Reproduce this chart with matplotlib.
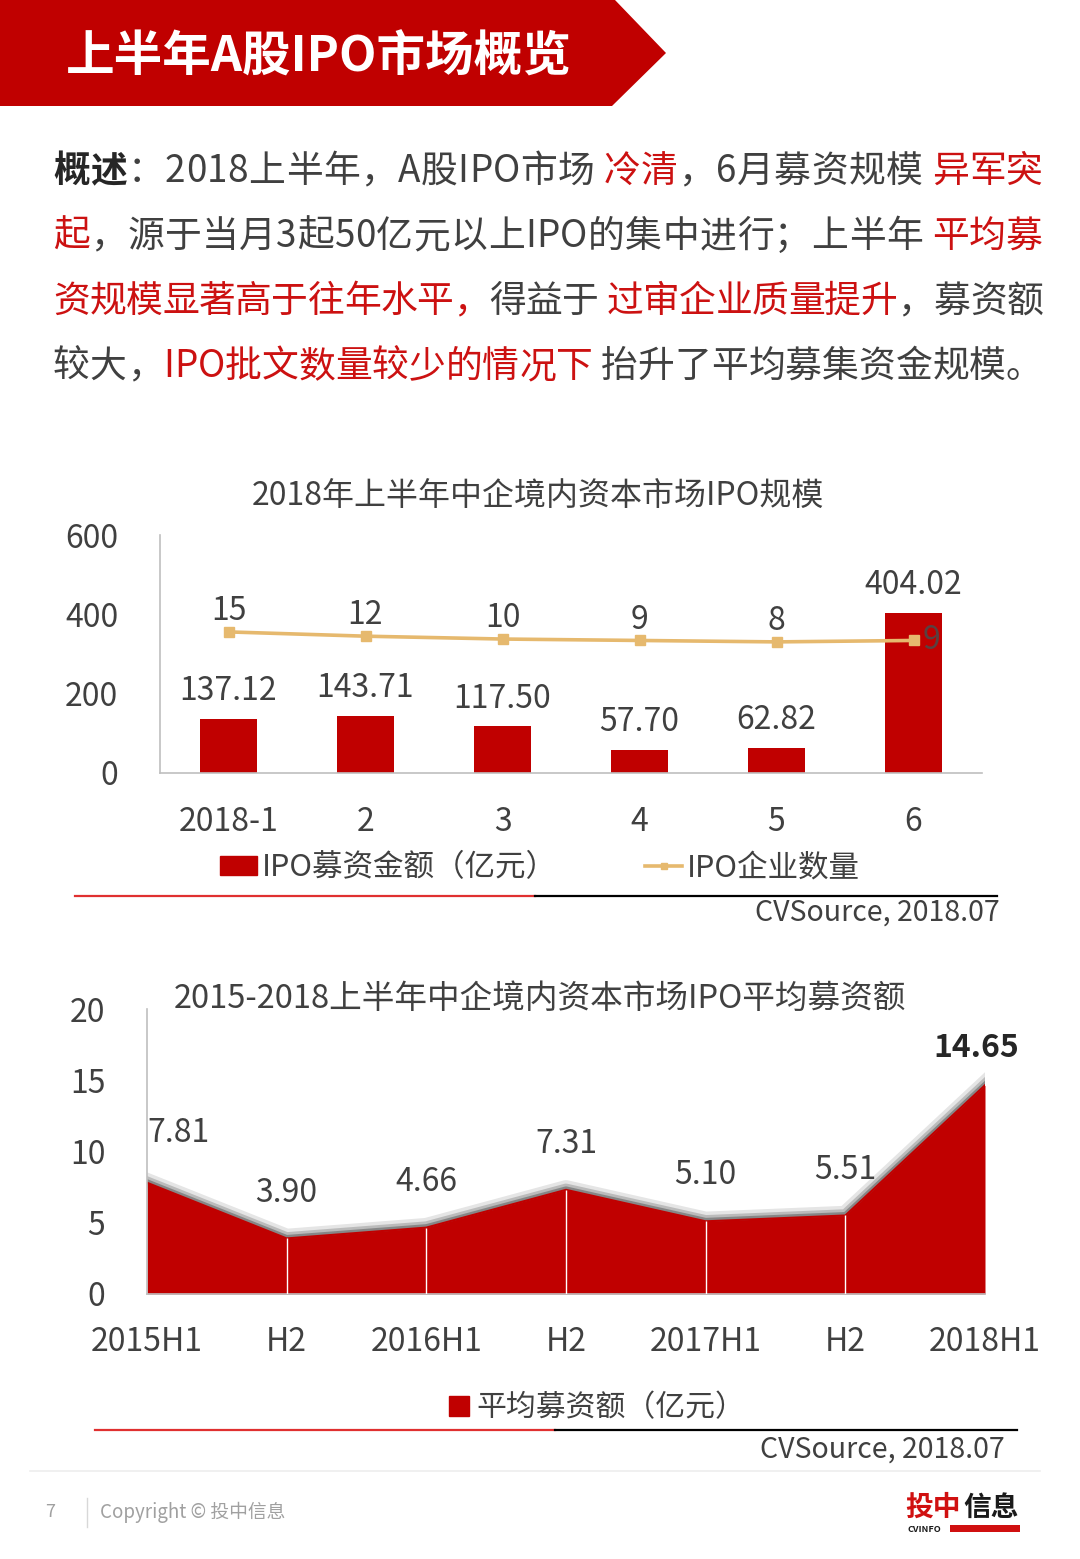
import matplotlib
matplotlib.use('Agg')
import matplotlib.pyplot as plt
import matplotlib.patheffects as pe
from matplotlib.patches import Polygon, Rectangle
from matplotlib.lines import Line2D
from matplotlib.font_manager import findfont, FontProperties
from matplotlib.ft2font import FT2Font

plt.rcParams['font.family'] = ['Noto Sans CJK SC', 'DejaVu Sans']

RED = '#C00000'
TXT_RED = '#CC1111'
DARK = '#404040'
GOLD = '#E6B96E'
AXIS_GREY = '#BFBFBF'

# chart 1 data
months = ['2018-1', '2', '3', '4', '5', '6']
ipo_amount = [137.12, 143.71, 117.50, 57.70, 62.82, 404.02]
ipo_count = [15, 12, 10, 9, 8, 9]

# chart 2 data
halves = ['2015H1', 'H2', '2016H1', 'H2', '2017H1', 'H2', '2018H1']
avg_raise = [7.81, 3.90, 4.66, 7.31, 5.10, 5.51, 14.65]

title = '上半年A股IPO市场概览'
chart1_title = '2018年上半年中企境内资本市场IPO规模'
chart2_title = '2015-2018上半年中企境内资本市场IPO平均募资额'
source = 'CVSource, 2018.07'

# paragraph: each line is a list of (text, colour, weight)
para_lines = [
    [('概述', '#262626', 'bold'), ('：2018上半年，A股IPO市场 ', DARK, 'normal'),
     ('冷清', TXT_RED, 'normal'), ('，6月募资规模 ', DARK, 'normal'), ('异军突', TXT_RED, 'normal')],
    [('起', TXT_RED, 'normal'), ('，源于当月3起50亿元以上IPO的集中进行；上半年 ', DARK, 'normal'),
     ('平均募', TXT_RED, 'normal')],
    [('资规模显著高于往年水平，', TXT_RED, 'normal'), ('得益于 ', DARK, 'normal'),
     ('过审企业质量提升', TXT_RED, 'normal'), ('，募资额', DARK, 'normal')],
    [('较大，', DARK, 'normal'), ('IPO批文数量较少的情况下', TXT_RED, 'normal'),
     (' 抬升了平均募集资金规模。', DARK, 'normal')],
]

W, H = 1080, 1559
fig = plt.figure(figsize=(W / 100, H / 100), dpi=100)

# background layer in pixel coordinates
bg = fig.add_axes([0, 0, 1, 1])
bg.set_xlim(0, W)
bg.set_ylim(H, 0)
bg.axis('off')

# header banner
bg.add_patch(Polygon([(0, 0), (615, 0), (666, 53), (612, 106), (0, 106)],
                     closed=True, color=RED, lw=0))
bg.text(66, 72, title, color='white', fontsize=35, fontweight='heavy', ha='left', va='baseline')

# paragraph, laid out char by char so the first three lines are justified
font = FT2Font(findfont(FontProperties(family='Noto Sans CJK SC')))
para_size = 26.5
font.set_size(para_size, 100)


def advance(ch):
    g = font.load_char(ord(ch))
    return g.linearHoriAdvance / 65536


left, right = 53, 1043
baselines = [182, 247, 312, 377]
for i, line in enumerate(para_lines):
    chars = [(c, col, wt) for seg, col, wt in line for c in seg]
    widths = [advance(c) for c, _, _ in chars]
    natural = sum(widths)
    extra = 0
    if i < len(para_lines) - 1:
        extra = (right - left - natural) / (len(chars) - 1)
    x = left
    for (c, col, wt), w in zip(chars, widths):
        if c != ' ':
            bg.text(x, baselines[i], c, color=col, fontsize=para_size, fontweight=wt,
                    ha='left', va='baseline')
        x += w + extra

# ---------- chart 1: bars + line ----------
bg.text(538, 497, chart1_title, color=DARK, fontsize=23, ha='center', va='center')

ax1 = fig.add_axes([160 / W, 1 - 773 / H, 822 / W, 238 / H])
ax1.bar(range(len(months)), ipo_amount, width=0.41, color=RED, zorder=2)
ax1.set_xlim(-0.5, len(months) - 0.5)
ax1.set_ylim(0, 600)
ax1.set_yticks([0, 200, 400, 600])
ax1.set_xticks(range(len(months)))
ax1.set_xticklabels(months)
ax1.tick_params(axis='y', length=0, pad=30, labelsize=23, labelcolor=DARK)
ax1.tick_params(axis='x', length=0, pad=24, labelsize=23, labelcolor=DARK)
for s in ['top', 'right']:
    ax1.spines[s].set_visible(False)
for s in ['left', 'bottom']:
    ax1.spines[s].set_color(AXIS_GREY)
    ax1.spines[s].set_linewidth(1.2)
ax1.patch.set_alpha(0)
for i, v in enumerate(ipo_amount):
    ax1.annotate(f'{v:.2f}', (i, v), xytext=(0, 20), textcoords='offset points',
                 ha='center', va='center', fontsize=23, color=DARK)

tw = ax1.twinx()
line1, = tw.plot(range(len(months)), ipo_count, color=GOLD, lw=2.6, marker='s', ms=7,
                 zorder=3)
tw.set_ylim(-84, 83)
tw.axis('off')
for i, v in enumerate(ipo_count):
    if i == len(ipo_count) - 1:
        tw.annotate(str(v), (i, v), xytext=(13, 0), textcoords='offset points',
                    ha='center', va='center', fontsize=23, color='#5A4040')
    else:
        tw.annotate(str(v), (i, v), xytext=(0, 15), textcoords='offset points',
                    ha='center', va='center', fontsize=23, color=DARK)

bar_handle = Rectangle((0, 0), 1, 1, color=RED)
line_handle = Line2D([], [], color=GOLD, lw=2.6, marker='s', ms=5)
fig.legend([bar_handle, line_handle], ['IPO募资金额（亿元）', 'IPO企业数量'],
           loc='center', bbox_to_anchor=(540 / W, 1 - 868 / H), ncol=2, frameon=False,
           fontsize=22, labelcolor=DARK, handlelength=1.2, handleheight=0.6,
           handletextpad=0.15, columnspacing=2.9)

bg.plot([75, 535], [896, 896], color='#E03030', lw=1.6)
bg.plot([535, 997], [896, 896], color='black', lw=1.6)
bg.text(1000, 913, source, color=DARK, fontsize=20.5, ha='right', va='center')

# ---------- chart 2: area ----------
bg.text(540, 999, chart2_title, color=DARK, fontsize=23.5, ha='center', va='center')

ax2 = fig.add_axes([147 / W, 1 - 1294 / H, 838 / W, 285 / H])
xs = list(range(len(halves)))
ax2.plot(xs, avg_raise, color=RED, lw=1.5, zorder=1,
         path_effects=[pe.SimpleLineShadow(offset=(0, 0.5), shadow_color='black', alpha=0.10, linewidth=13),
                       pe.SimpleLineShadow(offset=(0, 0.5), shadow_color='black', alpha=0.18, linewidth=8),
                       pe.SimpleLineShadow(offset=(0, 0.5), shadow_color='black', alpha=0.28, linewidth=4),
                       pe.Normal()])
area = ax2.fill_between(xs, avg_raise, color=RED, lw=0, zorder=2)
ax2.vlines(xs[1:-1], 0, avg_raise[1:-1], color='white', lw=1, zorder=3)
ax2.set_xlim(0, len(halves) - 1)
ax2.set_ylim(0, 20)
ax2.set_yticks([0, 5, 10, 15, 20])
ax2.set_xticks(xs)
ax2.set_xticklabels(halves)
ax2.tick_params(axis='y', length=0, pad=30, labelsize=23, labelcolor=DARK)
ax2.tick_params(axis='x', length=0, pad=23, labelsize=23, labelcolor=DARK)
for s in ['top', 'right']:
    ax2.spines[s].set_visible(False)
for s in ['left', 'bottom']:
    ax2.spines[s].set_color(AXIS_GREY)
    ax2.spines[s].set_linewidth(1.2)
ax2.patch.set_alpha(0)
for i, v in enumerate(avg_raise):
    if i == 0:
        ax2.annotate(f'{v:.2f}', (i, v), xytext=(0, 36), textcoords='offset points',
                     ha='left', va='center', fontsize=23, color=DARK, annotation_clip=False)
    elif i == len(avg_raise) - 1:
        ax2.annotate(f'{v:.2f}', (i, v), xytext=(-6, 27), textcoords='offset points',
                     ha='center', va='center', fontsize=23, color='#262626', fontweight='bold',
                     annotation_clip=False)
    else:
        ax2.annotate(f'{v:.2f}', (i, v), xytext=(0, 33), textcoords='offset points',
                     ha='center', va='center', fontsize=23, color=DARK)

area_handle = Rectangle((0, 0), 1, 1, color=RED)
fig.legend([area_handle], ['平均募资额（亿元）'], loc='center',
           bbox_to_anchor=(597 / W, 1 - 1408 / H), frameon=False, fontsize=21.5,
           labelcolor=DARK, handlelength=0.65, handleheight=0.65, handletextpad=0.25)

bg.plot([95, 555], [1430, 1430], color='#E03030', lw=1.6)
bg.plot([555, 1017], [1430, 1430], color='black', lw=1.6)
bg.text(1005, 1450, source, color=DARK, fontsize=20.5, ha='right', va='center')

# ---------- footer ----------
bg.plot([30, 1040], [1471, 1471], color='#EEEEEE', lw=1.2)
bg.text(50, 1512, '7', color='#A0A0A0', fontsize=13, ha='center', va='center')
bg.plot([87, 87], [1498, 1527], color='#D8D8D8', lw=1)
bg.text(100, 1512, 'Copyright © 投中信息', color='#A0A0A0', fontsize=13.5, ha='left', va='center')
bg.text(905, 1508, '投中', color='#D01010', fontsize=20, fontweight='heavy', ha='left', va='center')
bg.text(963, 1508, '信息', color='#1A1A1A', fontsize=20, fontweight='heavy', ha='left', va='center')
bg.text(907, 1529, 'CVINFO', color='#1A1A1A', fontsize=6.5, fontweight='bold', ha='left', va='center')
bg.add_patch(Rectangle((950, 1525), 70, 7, color='#D01010', lw=0))

fig.savefig('out.png', dpi=100)
